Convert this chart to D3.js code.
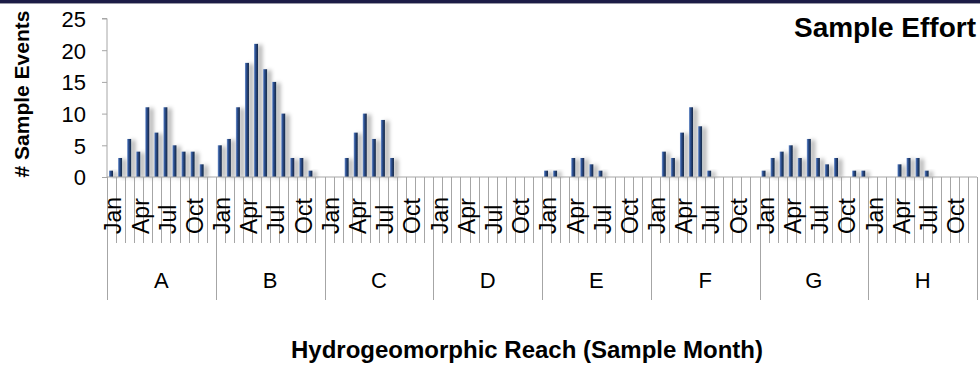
<!DOCTYPE html>
<html>
<head>
<meta charset="utf-8">
<script src="https://cdn.jsdelivr.net/npm/d3@7"></script>
<style>
  html, body { margin: 0; padding: 0; background: #fff; }
  svg { display: block; font-family: "Liberation Sans", Arial, sans-serif; }
</style>
</head>
<body>
<svg id="chart" width="980" height="368"></svg>
<script>
// --- data ---
const reaches = ["A", "B", "C", "D", "E", "F", "G", "H"];
const months = ["Jan", "Feb", "Mar", "Apr", "May", "Jun", "Jul", "Aug", "Sep", "Oct", "Nov", "Dec"];
const shownMonths = ["Jan", "Apr", "Jul", "Oct"];
const yTicks = [0, 5, 10, 15, 20, 25];

const reachA = [1, 3, 6, 4, 11, 7, 11, 5, 4, 4, 2, 0];
const reachB = [5, 6, 11, 18, 21, 17, 15, 10, 3, 3, 1, 0];
const reachC = [0, 0, 3, 7, 10, 6, 9, 3, 0, 0, 0, 0];
const reachD = [0, 0, 0, 0, 0, 0, 0, 0, 0, 0, 0, 0];
const reachE = [1, 1, 0, 3, 3, 2, 1, 0, 0, 0, 0, 0];
const reachF = [0, 4, 3, 7, 11, 8, 1, 0, 0, 0, 0, 0];
const reachG = [1, 3, 4, 5, 3, 6, 3, 2, 3, 0, 1, 1];
const reachH = [0, 0, 0, 2, 3, 3, 1, 0, 0, 0, 0, 0];

const reachValues = [reachA, reachB, reachC, reachD, reachE, reachF, reachG, reachH];

// flatten into records
const data = [];
reaches.forEach((r, i) => {
    months.forEach((m, j) => {
        data.push({ reach: r, month: m, value: reachValues[i][j] });
    });
});

// --- layout ---
const plot = { left: 107, right: 977, top: 18.5, bottom: 177 };
const axisColor = "#a6a6a6";

const svg = d3.select("#chart");

// top banner
svg.append("rect").attr("x", 0).attr("y", 0).attr("width", 980).attr("height", 3).attr("fill", "#1c1c46");
svg.append("rect").attr("x", 0).attr("y", 3).attr("width", 980).attr("height", 1).attr("fill", "#9a9aa8");

// defs: bar gradient + shadow
const defs = svg.append("defs");
const grad = defs.append("linearGradient").attr("id", "barGrad").attr("x1", "0").attr("x2", "1").attr("y1", "0").attr("y2", "0");
grad.append("stop").attr("offset", "0%").attr("stop-color", "#7a9ad0");
grad.append("stop").attr("offset", "30%").attr("stop-color", "#31569a");
grad.append("stop").attr("offset", "70%").attr("stop-color", "#1f3864");
grad.append("stop").attr("offset", "100%").attr("stop-color", "#152847");

const shadow = defs.append("filter").attr("id", "shadow")
    .attr("x", "-50%").attr("y", "-20%").attr("width", "450%").attr("height", "140%");
shadow.append("feDropShadow")
    .attr("dx", 4).attr("dy", 1).attr("stdDeviation", 2.2)
    .attr("flood-color", "#000").attr("flood-opacity", 0.35);

// scales
const x0 = d3.scaleBand().domain(reaches).range([plot.left, plot.right]);
const x1 = d3.scaleBand().domain(months).range([0, x0.bandwidth()]);
const y = d3.scaleLinear().domain([0, 25]).range([plot.bottom, plot.top]);

// bars
const barW = 4;
svg.append("g")
    .selectAll("rect")
    .data(data.filter(d => d.value > 0))
    .join("rect")
    .attr("x", d => x0(d.reach) + x1(d.month) + x1.bandwidth() / 2 - barW / 2 - 0.5)
    .attr("y", d => y(d.value))
    .attr("width", barW)
    .attr("height", d => y(0) - y(d.value))
    .attr("fill", "url(#barGrad)")
    .attr("filter", "url(#shadow)");

// y axis
const yAxis = svg.append("g")
    .attr("transform", `translate(${plot.left},0)`)
    .call(d3.axisLeft(y).tickValues(yTicks).tickSize(5).tickPadding(16));
yAxis.select(".domain").attr("stroke", axisColor).attr("d", `M-5,${plot.top}H0V${plot.bottom}`);
yAxis.selectAll(".tick line").attr("stroke", axisColor);
yAxis.selectAll(".tick text").attr("font-size", 22).attr("fill", "#000").attr("dy", "0.36em");

// x axis baseline
svg.append("line")
    .attr("x1", plot.left).attr("x2", plot.right)
    .attr("y1", plot.bottom).attr("y2", plot.bottom)
    .attr("stroke", axisColor);

// month dividers
const monthTickBottom = 243;
const groupTickBottom = 300;
const dividers = [];
reaches.forEach(r => {
    months.forEach((m, j) => {
        dividers.push({ x: x0(r) + x1(m), group: j === 0 });
    });
});
dividers.push({ x: plot.right, group: true });

svg.append("g")
    .selectAll("line")
    .data(dividers)
    .join("line")
    .attr("x1", d => Math.round(d.x) + 0.5)
    .attr("x2", d => Math.round(d.x) + 0.5)
    .attr("y1", plot.bottom)
    .attr("y2", d => d.group ? groupTickBottom : monthTickBottom)
    .attr("stroke", axisColor);

// month labels (rotated)
const monthLabels = [];
reaches.forEach(r => {
    shownMonths.forEach(m => monthLabels.push({ reach: r, month: m }));
});
svg.append("g")
    .selectAll("text")
    .data(monthLabels)
    .join("text")
    .attr("transform", d => {
        const cx = x0(d.reach) + x1(d.month) + x1.bandwidth() / 2 + 1.5;
        return `translate(${cx},234) rotate(-90)`;
    })
    .attr("dy", "0.36em")
    .attr("text-anchor", "start")
    .attr("font-size", 23)
    .text(d => d.month);

// reach labels
svg.append("g")
    .selectAll("text")
    .data(reaches)
    .join("text")
    .attr("x", d => x0(d) + x0.bandwidth() / 2)
    .attr("y", 288)
    .attr("text-anchor", "middle")
    .attr("font-size", 22)
    .text(d => d);

// titles
svg.append("text")
    .attr("x", 976).attr("y", 37)
    .attr("text-anchor", "end")
    .attr("font-size", 28).attr("font-weight", "bold")
    .text("Sample Effort");

svg.append("text")
    .attr("transform", "translate(29,94) rotate(-90)")
    .attr("text-anchor", "middle")
    .attr("font-size", 21).attr("font-weight", "bold")
    .text("# Sample Events");

svg.append("text")
    .attr("x", 527).attr("y", 358)
    .attr("text-anchor", "middle")
    .attr("font-size", 24).attr("font-weight", "bold")
    .text("Hydrogeomorphic Reach (Sample Month)");
</script>
</body>
</html>
